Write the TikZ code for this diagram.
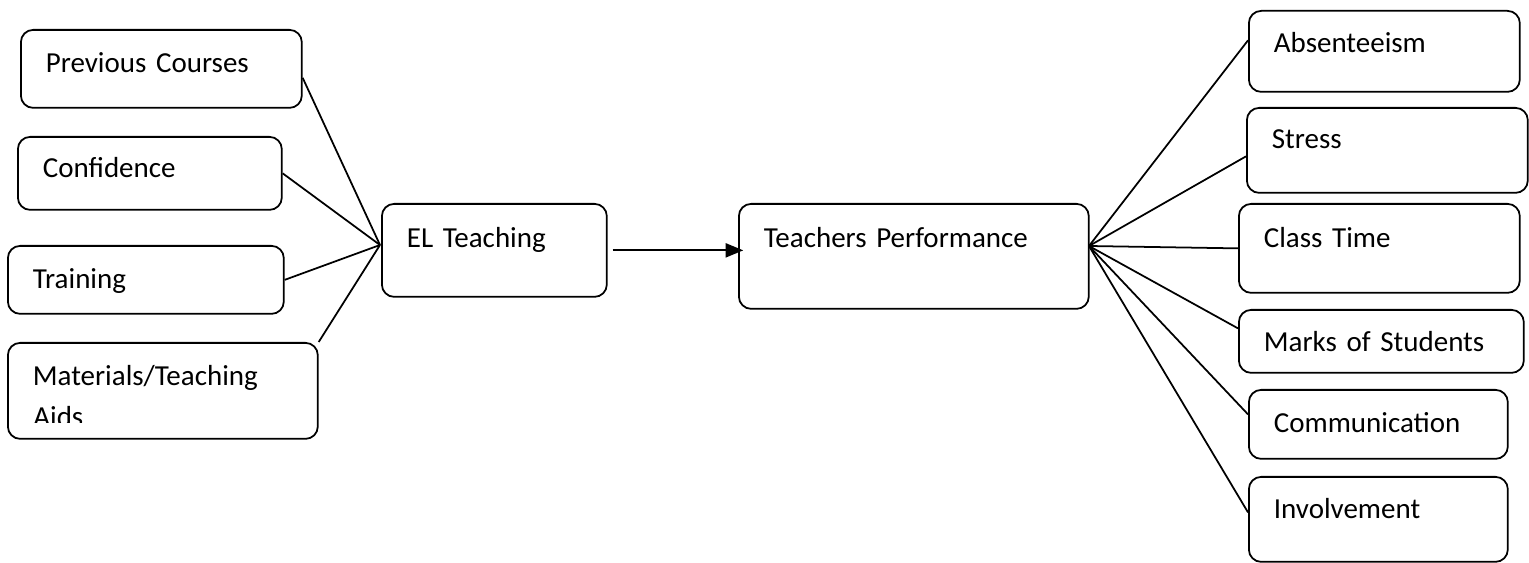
\documentclass[tikz,border=0pt]{standalone}
\usepackage{fontspec}
\setmainfont[WordSpace=0.8]{Carlito}
\usepackage{tikz}
\usetikzlibrary{arrows.meta}
\usetikzlibrary{calc}

\begin{document}
\begin{tikzpicture}[x=0.02cm,y=-0.02cm,
-{Triangle[length=8pt,width=7pt]},>=Triangle]
     \tikzstyle{factor}=[draw,black,line width=1pt,rounded corners=7pt,
        anchor=north west,align=left,inner ysep=0pt,inner xsep=0.5cm,
        font=\fontsize{16.5}{18}\selectfont]
     \tikzstyle{edge} = [draw,line width=1pt,black,-]
     \tikzstyle{arr} = [draw,line width=1pt,black,-{Triangle[length=10pt,width=8pt]}]
     \useasboundingbox (0,0) rectangle (1529,563);

     % causes
     \node[factor,text width=4.62cm,text height=0.86cm,text depth=0.70cm] (prev) at (20,29) {Previous Courses};
     \node[factor,text width=4.28cm,text height=0.82cm,text depth=0.64cm] (conf) at (17,136) {Confidence};
     \node[factor,text width=4.52cm,text height=0.86cm,text depth=0.50cm] (train) at (7,245) {Training};
     \node[factor,text width=5.20cm,text height=0.86cm,text depth=1.06cm] (mat) at (7,342) {Materials/Teaching};
     \begin{scope}
       \clip (7,342) rectangle (317,423);
       \node[anchor=base west,inner sep=0pt,font=\fontsize{16.5}{18}\selectfont] (aids) at (33,427) {Aids};
     \end{scope}

     % middle
     \node[factor,text width=3.50cm,text height=0.88cm,text depth=0.98cm] (el) at (381,203) {EL Teaching};
     \node[factor,text width=6.00cm,text height=0.88cm,text depth=1.22cm] (tp) at (738,203) {Teachers Performance};

     % outcomes
     \node[factor,text width=4.42cm,text height=0.84cm,text depth=0.78cm] (abs) at (1248,10) {Absenteeism};
     \node[factor,text width=4.62cm,text height=0.82cm,text depth=0.88cm] (stress) at (1246,107) {Stress};
     \node[factor,text width=4.62cm,text height=0.88cm,text depth=0.90cm] (ctime) at (1238,203) {Class Time};
     \node[factor,text width=4.70cm,text height=0.84cm,text depth=0.42cm] (marks) at (1238,309) {Marks of Students};
     \node[factor,text width=4.18cm,text height=0.86cm,text depth=0.52cm] (comm) at (1248,389) {Communication};
     \node[factor,text width=4.18cm,text height=0.84cm,text depth=0.86cm] (inv) at (1248,476) {Involvement};

     \coordinate (elin) at (380,245);
     \coordinate (tpout) at (1089,246);

     \draw[edge] ($(prev.east)+(0,9)$) -- (elin);
     \draw[edge] (conf.east) -- (elin);
     \draw[edge] (train.east) -- (elin);
     \draw[edge] (mat.north east) -- (elin);

     \draw[arr,shorten >=-3pt] ($(el.east)+(5,0)$) -- (el.east -| tp.west);

     \draw[edge] (tpout) -- ($(abs.west)+(0,-11)$);
     \draw[edge] (tpout) -- ($(stress.west)+(0,6)$);
     \draw[edge] (tpout) -- (ctime.west);
     \draw[edge] (tpout) -- ($(marks.west)+(0,-13)$);
     \draw[edge] (tpout) -- ($(comm.west)+(0,-10)$);
     \draw[edge] (tpout) -- ($(inv.west)+(0,-7)$);
 \end{tikzpicture}
\end{document}
